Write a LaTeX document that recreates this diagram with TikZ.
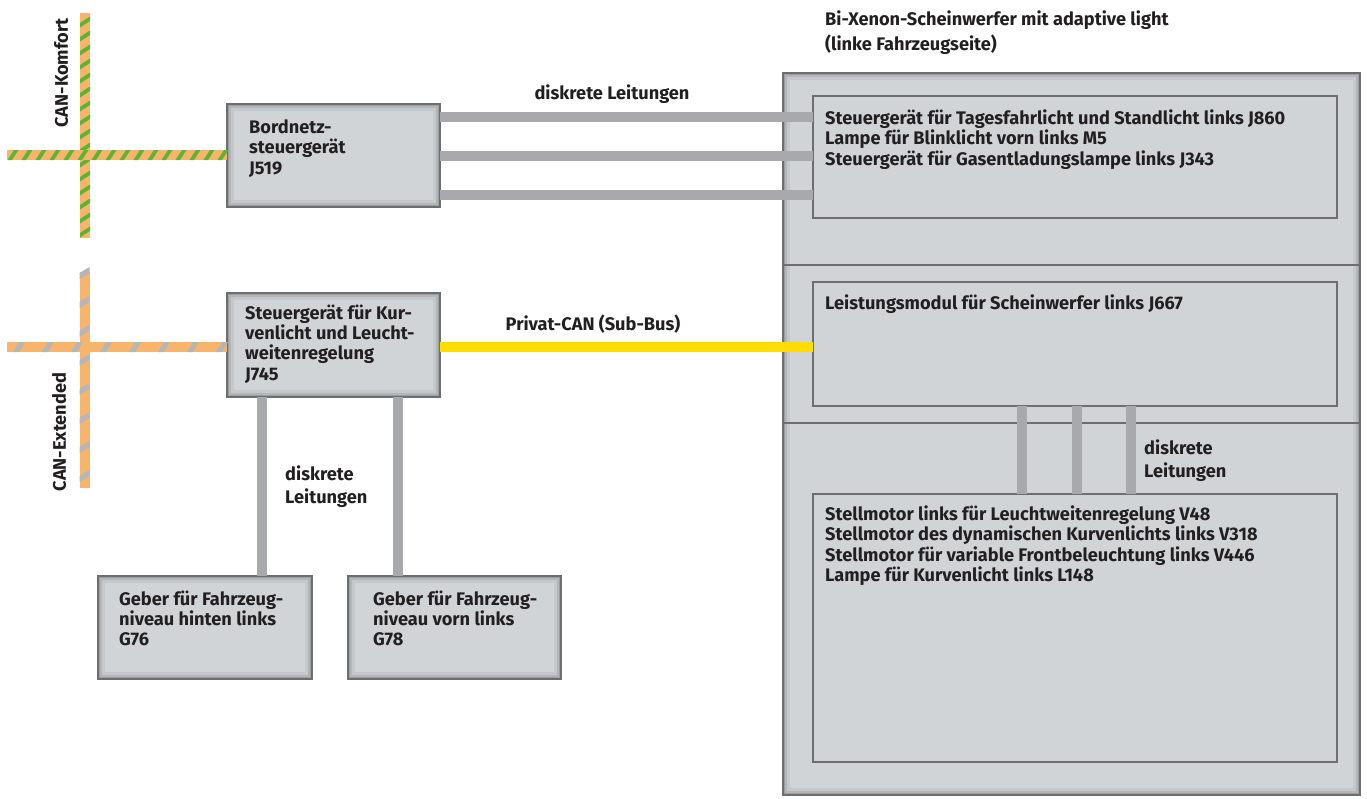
\documentclass[tikz,border=0pt]{standalone}
\usepackage{fontspec}
\setmainfont{Fira Sans}
\usetikzlibrary{decorations.markings}

\definecolor{boxfill}{HTML}{D1D4D7}
\definecolor{boxline}{HTML}{6D6E70}
\definecolor{bevelA}{HTML}{9C9FA2}
\definecolor{bevelB}{HTML}{B3B6B9}
\definecolor{bevelC}{HTML}{C5C8CB}
\definecolor{wirec}{HTML}{A7A9AC}
\definecolor{canorange}{HTML}{F7B46A}
\definecolor{cangreen}{HTML}{5CB531}
\definecolor{cangray}{HTML}{B4B6B8}
\definecolor{subbus}{HTML}{FFDD00}
\definecolor{ink}{HTML}{231F20}

\newcommand\dgfont{\fontsize{18.2}{20.3}\selectfont\bfseries}
\newcommand\dglabelfont{\fontsize{18.2}{23.3}\selectfont\bfseries}

\tikzset{
  bevelled/.style={draw=boxline, line width=1.4pt, fill=boxfill, inner sep=0pt, outer sep=0pt,
    anchor=north west,
    path picture={
      \draw[line width=14pt, bevelC] (path picture bounding box.south west) rectangle (path picture bounding box.north east);
      \draw[line width=8pt, bevelB] (path picture bounding box.south west) rectangle (path picture bounding box.north east);
      \draw[line width=4pt, bevelA] (path picture bounding box.south west) rectangle (path picture bounding box.north east);
    }},
  panel/.style={draw=boxline, line width=1.3pt, fill=boxfill, inner sep=0pt, outer sep=0pt, anchor=north west},
  txt/.style={font=\dgfont, text=ink, align=left, inner sep=0pt, anchor=north west},
  lbl/.style={font=\dglabelfont, text=ink, align=left, inner sep=0pt, anchor=north west},
  ctxt/.style={font=\dgfont, text=ink, align=center, inner sep=0pt},
  wire/.style={draw=wirec, line width=10pt},
  subbusline/.style={draw=subbus, line width=10pt},
  divider/.style={draw=boxline, line width=1.3pt},
  komfortH/.style={draw=canorange, line width=10pt,
    postaction={decorate, decoration={markings,
      mark=between positions 6pt and 1 step 14pt with {\fill[cangreen] (-5.5pt,-5pt) -- (-1pt,-5pt) -- (5.5pt,5pt) -- (1pt,5pt) -- cycle;}}}},
  komfortV/.style={draw=canorange, line width=10pt,
    postaction={decorate, decoration={markings,
      mark=between positions 6pt and 1 step 14pt with {\fill[cangreen] (1pt,-5pt) -- (5.5pt,-5pt) -- (-1pt,5pt) -- (-5.5pt,5pt) -- cycle;}}}},
  extendedH/.style={draw=canorange, line width=10pt,
    postaction={decorate, decoration={markings,
      mark=between positions 12pt and 1 step 29pt with {\fill[cangray] (-6pt,-5pt) -- (0pt,-5pt) -- (6pt,5pt) -- (0pt,5pt) -- cycle;}}}},
  extendedV/.style={draw=canorange, line width=10pt,
    postaction={decorate, decoration={markings,
      mark=between positions 12pt and 1 step 29pt with {\fill[cangray] (0pt,-5pt) -- (6pt,-5pt) -- (0pt,5pt) -- (-6pt,5pt) -- cycle;}}}},
}

\begin{document}
\begin{tikzpicture}[x=1pt,y=-1pt]
\useasboundingbox[fill=white] (0,0) rectangle (1367,798);

% helper levels for the buses and wires
\coordinate (kw) at (7,155);
\coordinate (ktop) at (85,13);
\coordinate (kbot) at (85,238);
\coordinate (ew) at (7,347);
\coordinate (etop) at (84.5,272);
\coordinate (ebot) at (84.5,488);
\coordinate (r1) at (600,117);
\coordinate (r2) at (600,156);
\coordinate (r3) at (600,195);
\coordinate (ry) at (600,347);
\coordinate (c1) at (1022,0);
\coordinate (c2) at (1077,0);
\coordinate (c3) at (1131,0);
\coordinate (g1) at (262,0);
\coordinate (g2) at (398,0);

% control units
\node[bevelled, minimum width=213pt, minimum height=103pt] (bn) at (227,104) {};
\node[bevelled, minimum width=213pt, minimum height=104pt] (kl) at (227,293) {};
\node[bevelled, minimum width=214pt, minimum height=103pt] (g76) at (98,576) {};
\node[bevelled, minimum width=213pt, minimum height=103pt] (g78) at (348,576) {};

% headlamp housing
\node[bevelled, minimum width=577pt, minimum height=722pt] (hl) at (783,73) {};
\draw[divider] (783,265) -- (1360,265);
\draw[divider] (783,423) -- (1360,423);
\node[panel, minimum width=524pt, minimum height=122pt] (in1) at (813,96) {};
\node[panel, minimum width=524pt, minimum height=124pt] (in2) at (813,282) {};
\node[panel, minimum width=524pt, minimum height=268pt] (in3) at (813,494) {};

% buses
\draw[komfortV] (kbot) -- (ktop);
\draw[komfortH] (kw) -- (bn.west |- kw);
\draw[extendedV] (ebot) -- (etop);
\draw[extendedH] (ew) -- (kl.west |- ew);

% discrete wires and sub-bus
\draw[wire] (bn.east |- r1) -- (in1.west |- r1);
\draw[wire] (bn.east |- r2) -- (in1.west |- r2);
\draw[wire] (bn.east |- r3) -- (in1.west |- r3);
\draw[subbusline] (kl.east |- ry) -- (in2.west |- ry);
\draw[wire] (kl.south -| g1) -- (g76.north -| g1);
\draw[wire] (kl.south -| g2) -- (g78.north -| g2);
\draw[wire] (in2.south -| c1) -- (in3.north -| c1);
\draw[wire] (in2.south -| c2) -- (in3.north -| c2);
\draw[wire] (in2.south -| c3) -- (in3.north -| c3);

% texts
\node[txt] (title) at (825,10.5) {Bi-Xenon-Scheinwerfer mit adaptive light\\[4.7pt](linke Fahrzeugseite)};
\node[txt] (bn-t) at (249,119.5) {Bordnetz-\\steuergerät\\J519};
\node[txt] (kl-t) at (245,304.5) {Steuergerät für Kur-\\venlicht und Leucht-\\weitenregelung\\J745};
\node[txt] (g76-t) at (119,590.5) {Geber für Fahrzeug-\\niveau hinten links\\G76};
\node[txt] (g78-t) at (373,590.5) {Geber für Fahrzeug-\\niveau vorn links\\G78};
\node[txt] (in1-t) at (825,109.5) {Steuergerät für Tagesfahrlicht und Standlicht links J860\\Lampe für Blinklicht vorn links M5\\Steuergerät für Gasentladungslampe links J343};
\node[txt] (in2-t) at (825,294.5) {Leistungsmodul für Scheinwerfer links J667};
\node[txt] (in3-t) at (825,505.5) {Stellmotor links für Leuchtweitenregelung V48\\Stellmotor des dynamischen Kurvenlichts links V318\\Stellmotor für variable Frontbeleuchtung links V446\\Lampe für Kurvenlicht links L148};
\node[ctxt] (lbl-top) at (612,94) {diskrete Leitungen};
\node[ctxt] (lbl-sub) at (593,324) {Privat-CAN (Sub-Bus)};
\node[lbl] (lbl-left) at (285,465.5) {diskrete\\Leitungen};
\node[lbl] (lbl-right) at (1144,439.5) {diskrete\\Leitungen};
\node[ctxt, rotate=90] (lbl-komfort) at (61,73) {CAN-Komfort};
\node[ctxt, rotate=90] (lbl-ext) at (59,432) {CAN-Extended};
\end{tikzpicture}
\end{document}
